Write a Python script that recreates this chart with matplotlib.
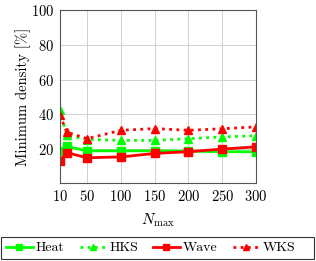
import matplotlib
matplotlib.use('Agg')
import matplotlib.pyplot as plt
from matplotlib.patches import Rectangle

plt.rcParams['font.family'] = 'serif'
plt.rcParams['font.serif'] = ['cmr10', 'DejaVu Serif']
plt.rcParams['mathtext.fontset'] = 'cm'
plt.rcParams['axes.formatter.use_mathtext'] = True

# data
n_max = [10, 20, 50, 100, 150, 200, 250, 300]
heat = [19, 21.5, 19, 19, 19, 18.8, 18.5, 18.5]
hks = [42.5, 28, 25.5, 25, 25, 26, 27, 27.7]
wave = [13, 18, 15, 15.5, 17.5, 18.5, 20, 21.3]
wks = [39.5, 29.8, 26, 30.8, 31.8, 30.8, 31.7, 32.8]
x_ticks = [10, 50, 100, 150, 200, 250, 300]
y_ticks = [20, 40, 60, 80, 100]

green = '#00ff00'
red = '#ff0000'

fig = plt.figure(figsize=(3.16, 2.61), dpi=100)
ax = fig.add_axes([60 / 316, 1 - 183 / 261, 196 / 316, 173 / 261])

dots = (0, (1, 1.6))
ax.plot(n_max, heat, color=green, lw=2, marker='s', ms=6, label='Heat')
ax.plot(n_max, hks, color=green, lw=2, ls=dots, marker='^', ms=6, label='HKS')
ax.plot(n_max, wave, color=red, lw=2, marker='s', ms=6, label='Wave')
ax.plot(n_max, wks, color=red, lw=2, ls=dots, marker='^', ms=6, label='WKS')

ax.set_xlim(10, 300)
ax.set_ylim(0.5, 100)
ax.set_xticks(x_ticks)
ax.set_yticks(y_ticks)
ax.tick_params(direction='in', length=0, labelsize=10.5, pad=4)
ax.grid(True, color='#d0d0d0', lw=0.7)
ax.set_axisbelow(True)
for s in ax.spines.values():
    s.set_color('#555555')
    s.set_linewidth(0.8)

ax.set_xlabel(r'$N_{\mathrm{max}}$', fontsize=11, labelpad=6)
ax.set_ylabel('Minimum density [%]', fontsize=10.5, labelpad=0)

# legend entries, with a separate frame that spans nearly the full width
leg = fig.legend(loc='center left', bbox_to_anchor=(2 / 316, 1 - 248 / 261),
                 ncol=4, frameon=False, fontsize=10, handlelength=1.9,
                 columnspacing=1.08, handletextpad=0.25, borderpad=0.3,
                 borderaxespad=0, markerscale=0.75)
fig.patches.append(Rectangle((1 / 316, 1 - 259 / 261), 313 / 316, 22 / 261,
                             transform=fig.transFigure, fill=False,
                             edgecolor='#333333', lw=0.8))

fig.savefig('out.png', dpi=100)
